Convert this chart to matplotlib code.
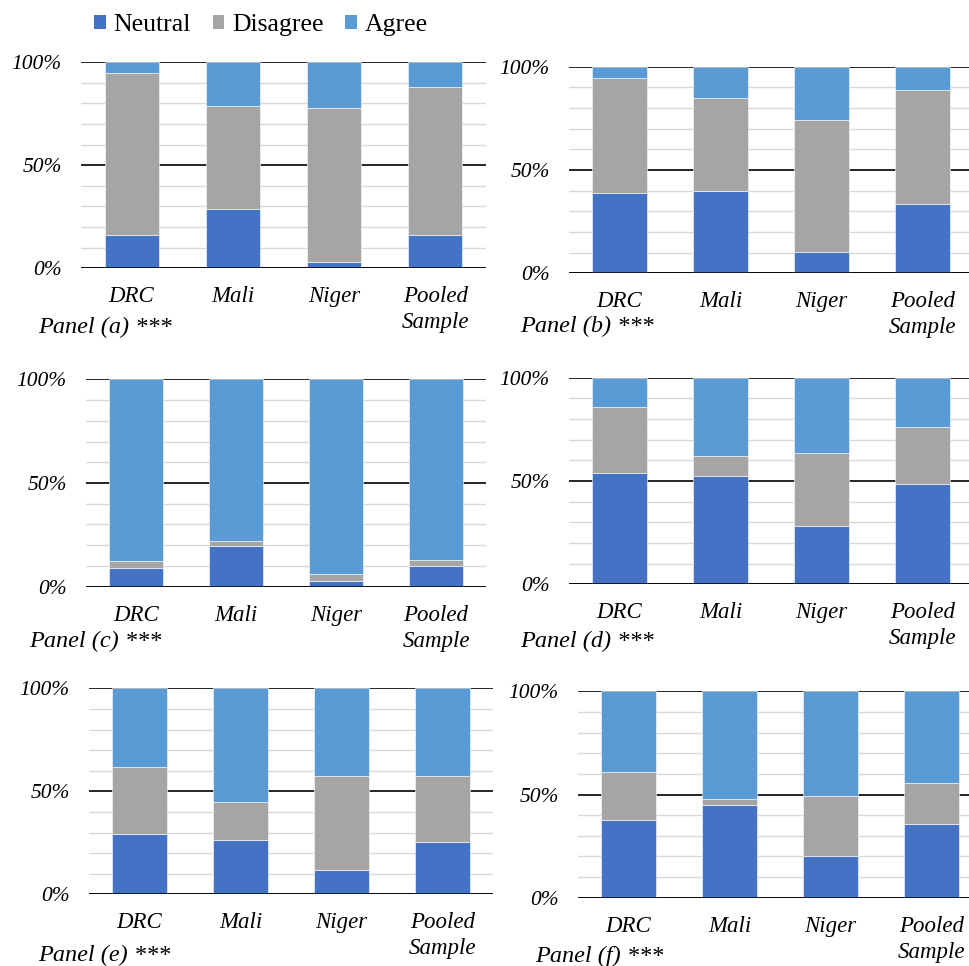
import numpy as np
import matplotlib
matplotlib.use('Agg')
import matplotlib.pyplot as plt
from matplotlib.patches import Patch
from matplotlib.font_manager import FontProperties

SERIF = 'Liberation Serif'
plt.rcParams['font.family'] = SERIF

categories = ['DRC', 'Mali', 'Niger', 'Pooled\nSample']
series_names = ['Neutral', 'Disagree', 'Agree']
colors = ['#4472C4', '#A5A5A5', '#5B9BD5']

# shares in percent, per panel: Neutral / Disagree / Agree
neutral_a = [16, 29, 3, 16]
disagree_a = [79, 50, 75, 72]
agree_a = [5, 21, 22, 12]

neutral_b = [39, 40, 10.5, 33.5]
disagree_b = [55.4, 44.7, 63.9, 55]
agree_b = [5.6, 15.3, 25.6, 11.5]

neutral_c = [9.2, 19.8, 2.7, 10]
disagree_c = [3, 2.2, 3.4, 2.9]
agree_c = [87.8, 78, 93.9, 87.1]

neutral_d = [53.9, 52.6, 28.1, 48.4]
disagree_d = [31.7, 9.3, 35.3, 27.9]
agree_d = [14.4, 38.1, 36.6, 23.7]

neutral_e = [29.4, 26.2, 11.7, 25.4]
disagree_e = [32.3, 18.8, 45.7, 32]
agree_e = [38.3, 55, 42.6, 42.6]

neutral_f = [37.8, 45.1, 20.4, 35.9]
disagree_f = [23.1, 2.7, 28.7, 19.8]
agree_f = [39.1, 52.2, 50.9, 44.3]

panel_titles = ['Panel (a) ***', 'Panel (b) ***', 'Panel (c) ***',
                'Panel (d) ***', 'Panel (e) ***', 'Panel (f) ***']
panels = [(neutral_a, disagree_a, agree_a), (neutral_b, disagree_b, agree_b),
          (neutral_c, disagree_c, agree_c), (neutral_d, disagree_d, agree_d),
          (neutral_e, disagree_e, agree_e), (neutral_f, disagree_f, agree_f)]

W, H = 969, 966
fig = plt.figure(figsize=(W / 100, H / 100), dpi=100)

# axes boxes in pixels: left, right, top, bottom
boxes = [(81, 486, 62.3, 268.3), (569, 973, 66.7, 273.3),
         (86, 486, 379.3, 586.7), (569, 973, 377.7, 584.3),
         (89, 493, 688.3, 894.3), (578, 982, 691.3, 897.7)]
# panel label positions: x left, y baseline
label_pos = [(38, 333), (520, 332), (29, 647), (520, 647), (38, 961), (535, 962)]

ytick_font = FontProperties(family=SERIF, style='italic', size=15.5)
xtick_font = FontProperties(family=SERIF, style='italic', size=16.5)
panel_font = FontProperties(family=SERIF, style='italic', size=17.5)
legend_font = FontProperties(family=SERIF, style='normal', size=18.5)

x = np.arange(len(categories))
for i, (vals, box) in enumerate(zip(panels, boxes)):
    l, r, t, b = box
    ax = fig.add_axes([l / W, 1 - b / H, (r - l) / W, (b - t) / H])
    bottom = np.zeros(len(categories))
    for v, c in zip(vals, colors):
        ax.bar(x, v, width=0.535, bottom=bottom, color=c,
               edgecolor='white', linewidth=0.4, zorder=3)
        bottom += np.array(v)
    ax.set_xlim(-0.5, 3.5)
    ax.set_ylim(0, 100)
    ax.set_yticks([0, 50, 100])
    ax.set_yticklabels(['0%', '50%', '100%'], fontproperties=ytick_font)
    ax.set_yticks(np.arange(10, 100, 10), minor=True)
    ax.set_xticks(x)
    ax.set_xticklabels(categories, fontproperties=xtick_font, linespacing=1.3)
    ax.tick_params(axis='both', which='both', length=0)
    ax.tick_params(axis='y', pad=14)
    ax.tick_params(axis='x', pad=13)
    ax.grid(axis='y', which='minor', color='#d9d9d9', linewidth=1.0, zorder=0)
    ax.grid(axis='y', which='major', color='black', linewidth=1.2, zorder=1)
    ax.axhline(0, color='black', linewidth=1.8, zorder=4)
    for s in ax.spines.values():
        s.set_visible(False)
    ax.set_axisbelow(True)
    lx, ly = label_pos[i]
    fig.text(lx / W, 1 - ly / H, panel_titles[i], fontproperties=panel_font,
             ha='left', va='baseline')

handles = [Patch(facecolor=c, label=n) for c, n in zip(colors, series_names)]
fig.legend(handles=handles, loc='center', bbox_to_anchor=(261 / W, 1 - 25 / H),
           ncol=3, frameon=False, prop=legend_font, handlelength=0.45,
           handleheight=0.45, handletextpad=0.3, columnspacing=0.85)

plt.savefig('out.png', dpi=100)
